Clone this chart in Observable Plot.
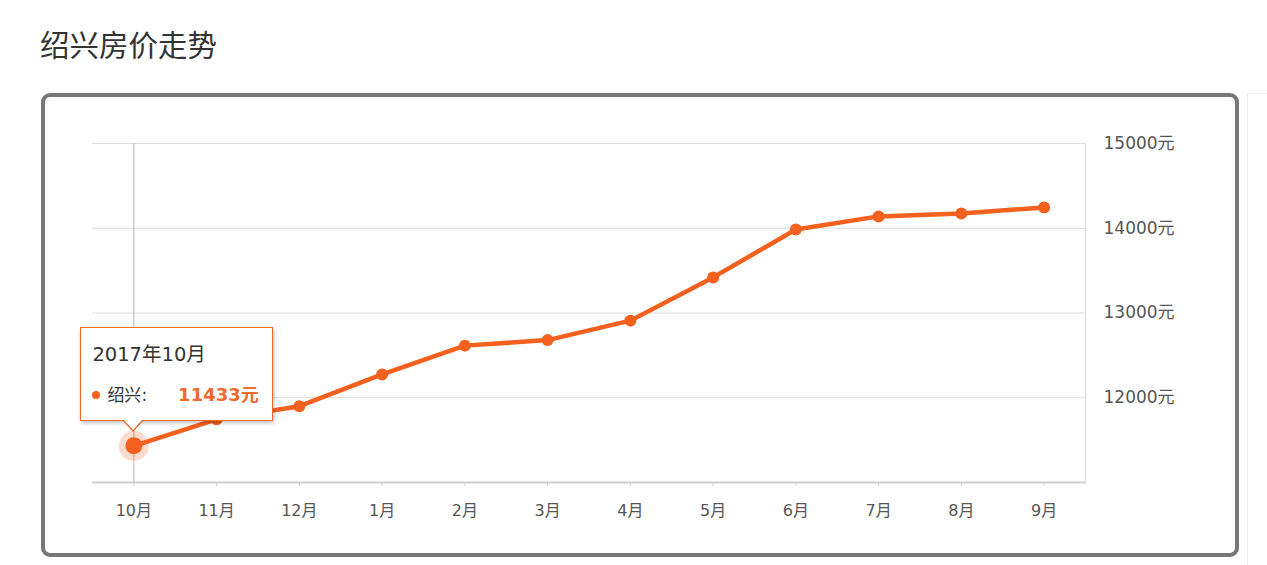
<!DOCTYPE html>
<html><head><meta charset="utf-8">
<script src="https://cdn.jsdelivr.net/npm/d3@7"></script>
<script src="https://cdn.jsdelivr.net/npm/@observablehq/plot@0.6"></script>
<style>
body{margin:0;background:#fff;font-family:"DejaVu Sans","Noto Sans CJK SC",sans-serif;}
#wrap{position:relative;width:1267px;height:565px;overflow:hidden;}
#title{position:absolute;left:40px;top:23px;font-family:"Noto Sans CJK SC",sans-serif;font-size:29.5px;color:#333;line-height:40px;}
#box{position:absolute;left:41px;top:93px;width:1190px;height:456px;border:4px solid #777;border-radius:9px;}
#edge{position:absolute;left:1247px;top:93px;width:30px;height:480px;border-left:1px solid #eee;border-top:1px solid #eee;}
#chart{position:absolute;left:0;top:0;}
#tip{position:absolute;width:191px;height:92px;background:#fff;border:1px solid #f06a2c;box-shadow:1px 2px 4px rgba(0,0,0,0.25);}
#tip .t{position:absolute;left:11px;top:13px;font-size:19.5px;color:#333;line-height:28px;white-space:nowrap;}
#tip .s{position:absolute;left:11px;top:52px;font-size:17px;color:#333;white-space:nowrap;line-height:28px;}
#tip .dot{display:inline-block;width:8px;height:8px;border-radius:50%;background:#f4621f;margin-right:7px;vertical-align:middle;position:relative;top:-1px;}
#tip .n{font-family:"Noto Sans CJK SC",sans-serif;}
#tip .v{color:#f06a2c;font-weight:bold;margin-left:31px;font-size:18px;}
</style></head>
<body><div id="wrap">
<div id="title">绍兴房价走势</div>
<div id="box"></div>
<div id="edge"></div>
<div id="chart"></div>
</div>
<script>
const months = ["10月","11月","12月","1月","2月","3月","4月","5月","6月","7月","8月","9月"];
const prices = [11433,11745,11900,12275,12615,12680,12910,13420,13985,14140,14175,14245];
const yTicks = [12000,13000,14000,15000];
const seriesName = "绍兴";
const tipTitle = "2017年10月";
const hiIndex = 0;

const data = months.map((m,i)=>({month:m, price:prices[i]}));
const orange = "#f4601e";
const hi = data[hiIndex];
const font = '"DejaVu Sans","Noto Sans CJK SC",sans-serif';

const chart = Plot.plot({
  width:1267, height:565,
  marginLeft:92, marginRight:182, marginTop:143, marginBottom:83,
  style:{fontFamily:font, background:"transparent"},
  x:{type:"point", domain:months, padding:0.5, round:false},
  y:{domain:[11000,15000]},
  marks:[
    Plot.ruleY(yTicks,{stroke:"#dcdcdc", strokeWidth:1}),
    Plot.frame({anchor:"right", stroke:"#dcdcdc"}),
    Plot.ruleY([11000],{stroke:"#cfcfcf", strokeWidth:2}),
    Plot.ruleX([hi.month],{y1:11000,y2:15000,stroke:"#b5b5b5",strokeWidth:1}),
    Plot.axisX({tickSize:4, stroke:"#cfcfcf", tickPadding:18, fontSize:16, fill:"#555", label:null}),
    Plot.axisY(yTicks,{anchor:"right", tickSize:0, tickPadding:18, fontSize:17, fill:"#555", label:null, tickFormat:d=>d+"元"}),
    Plot.line(data,{x:"month", y:"price", stroke:orange, strokeWidth:4.5, strokeLinejoin:"round"}),
    Plot.dot(data,{x:"month", y:"price", r:6, fill:orange}),
    Plot.dot([hi],{x:"month", y:"price", r:15, fill:orange, fillOpacity:0.22}),
    Plot.dot([hi],{x:"month", y:"price", r:8.5, fill:orange})
  ]
});
document.getElementById("chart").appendChild(chart);

const px = chart.scale("x").apply(hi.month);
const py = chart.scale("y").apply(hi.price);
const wrap = document.getElementById("wrap");
const tip = document.createElement("div");
tip.id = "tip";
tip.style.left = (px-53)+"px";
tip.style.top = (py-118)+"px";
tip.innerHTML = `<div class="t">${tipTitle}</div><div class="s"><span class="dot"></span><span class="n">${seriesName}</span>:<span class="v">${hi.price}元</span></div>`;
wrap.appendChild(tip);
const a1 = document.createElement("div");
a1.style.cssText = `position:absolute;left:${px-10}px;top:${py-24}px;width:0;height:0;border-left:10px solid transparent;border-right:10px solid transparent;border-top:11px solid #f06a2c;`;
const a2 = document.createElement("div");
a2.style.cssText = `position:absolute;left:${px-9}px;top:${py-25}px;width:0;height:0;border-left:9px solid transparent;border-right:9px solid transparent;border-top:10px solid #fff;`;
wrap.appendChild(a1);
wrap.appendChild(a2);
</script>
</body></html>
